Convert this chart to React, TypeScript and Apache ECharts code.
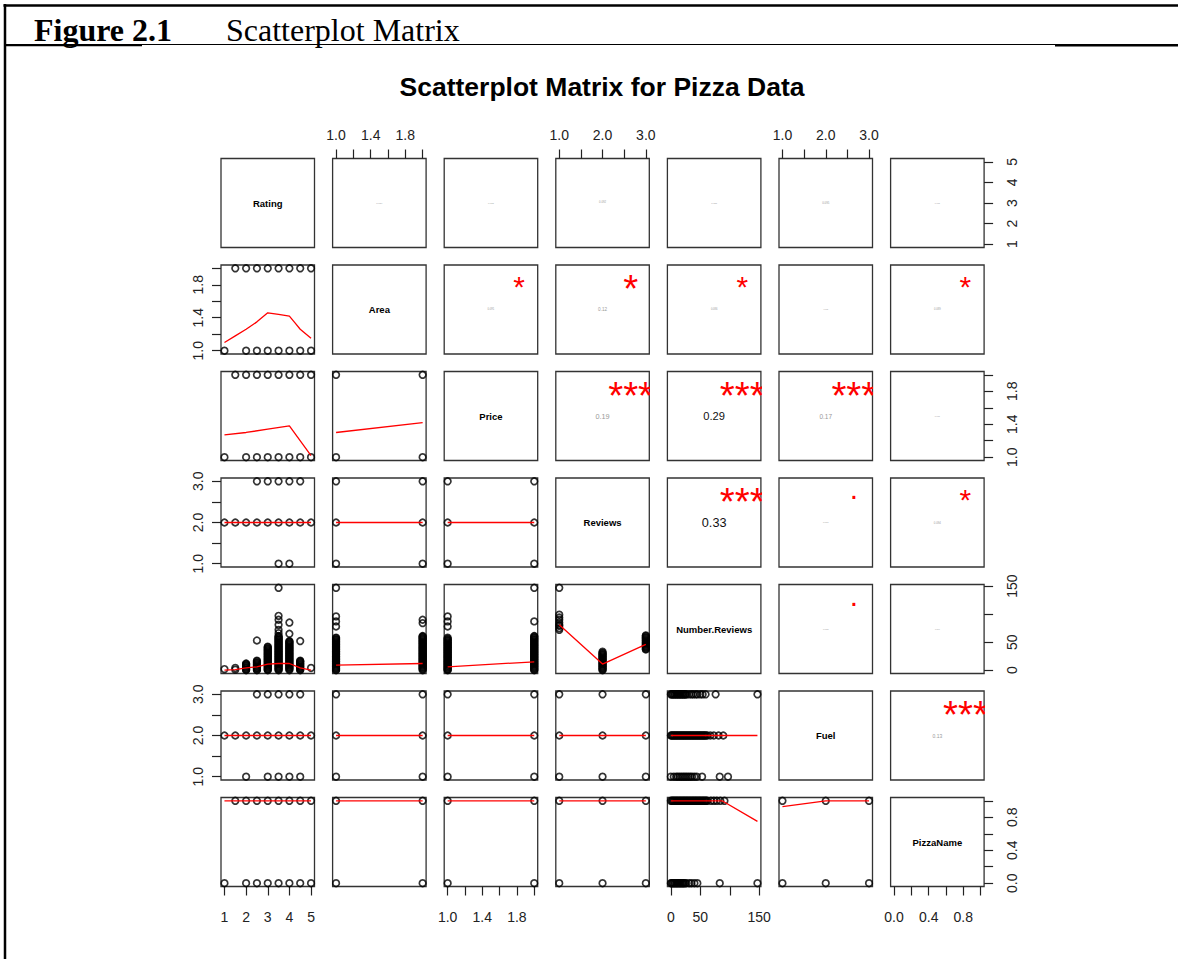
import { useEffect, useRef } from 'react';
import * as echarts from 'echarts';

// Variables in pairs() order and their observed ranges
const varNames = ['Rating', 'Area', 'Price', 'Reviews', 'Number.Reviews', 'Fuel', 'PizzaName'];
const varRanges: [number, number][] = [[1, 5], [1, 2], [1, 2], [1, 3], [0, 147], [1, 3], [0, 1]];

// Tick marks and labelled ticks for each variable's outer axis
const tickValues = [
  [1, 2, 3, 4, 5],
  [1, 1.2, 1.4, 1.6, 1.8, 2],
  [1, 1.2, 1.4, 1.6, 1.8, 2],
  [1, 1.5, 2, 2.5, 3],
  [0, 50, 100, 150],
  [1, 1.5, 2, 2.5, 3],
  [0, 0.2, 0.4, 0.6, 0.8, 1],
];
const tickLabels = [
  [1, 2, 3, 4, 5],
  [1, 1.4, 1.8],
  [1, 1.4, 1.8],
  [1, 2, 3],
  [0, 50, 150],
  [1, 2, 3],
  [0, 0.4, 0.8],
];
const labelDecimals = [0, 1, 1, 1, 0, 1, 1];

// Area / Price / PizzaName by Rating
const areaTwoRatings = [1.5, 2, 2.5, 3, 3.5, 4, 4.5, 5];
const areaOneRatings = [1, 2, 2.5, 3, 3.5, 4, 4.5, 5];
const areaRatingSmooth = [[1, 1.1], [1.5, 1.18], [2, 1.26], [2.5, 1.35], [3, 1.46], [3.5, 1.44], [4, 1.42], [4.25, 1.34], [4.5, 1.26], [5, 1.15]];
const priceTwoRatings = [1.5, 2, 2.5, 3, 3.5, 4, 4.5, 5];
const priceOneRatings = [1, 2, 2.5, 3, 3.5, 4, 4.5, 5];
const priceRatingSmooth = [[1, 1.27], [2, 1.3], [3, 1.34], [4, 1.38], [5, 1.02]];
const priceAreaPoints = [[1, 1], [1, 2], [2, 1], [2, 2]];
const priceAreaSmooth = [[1, 1.3], [2, 1.42]];

// Reviews
const reviewsThreeRatings = [2.5, 3, 3.5, 4, 4.5];
const reviewsTwoRatings = [1, 1.5, 2, 2.5, 3, 3.5, 4, 4.5, 5];
const reviewsOneRatings = [3.5, 4];
const reviewsRatingSmooth = [[1, 2], [5, 2]];
const reviewsAreaPoints = [[1, 1], [1, 2], [1, 3], [2, 1], [2, 2], [2, 3]];
const reviewsAreaSmooth = [[1, 2], [2, 2]];
const reviewsPricePoints = [[1, 1], [1, 2], [1, 3], [2, 1], [2, 2], [2, 3]];
const reviewsPriceSmooth = [[1, 2], [2, 2]];

// Number.Reviews at each Rating level
const nrAtRating1 = [2];
const nrAtRating15 = [1, 4];
const nrAtRating2 = [0, 1, 2, 4, 5, 7, 8, 10, 11, 12];
const nrAtRating25 = [0, 1, 3, 4, 5, 7, 8, 10, 11, 13, 14, 16, 17, 53];
const nrAtRating3 = [0, 1, 2, 4, 5, 7, 8, 9, 11, 12, 14, 15, 17, 18, 20, 21, 23, 24, 26, 27, 29, 30, 32, 33, 35, 36, 38, 39, 41, 42];
const nrAtRating35 = [0, 1, 3, 4, 6, 7, 9, 10, 12, 13, 15, 16, 18, 19, 21, 22, 24, 25, 27, 28, 30, 31, 33, 34, 36, 37, 39, 40, 42, 43, 45, 46, 48, 49, 51, 52, 54, 55, 57, 58, 60, 61, 66, 72, 81, 90, 97, 147];
const nrAtRating4 = [0, 2, 3, 5, 6, 8, 9, 11, 12, 14, 15, 17, 18, 20, 21, 23, 24, 26, 27, 29, 30, 32, 33, 35, 36, 38, 39, 41, 42, 44, 45, 47, 48, 50, 51, 52, 65, 85];
const nrAtRating45 = [0, 1, 3, 4, 6, 7, 9, 10, 12, 13, 15, 16, 17, 52];
const nrAtRating5 = [4];
const nrRatingSmooth = [[1, 0], [1.5, 1], [2, 4], [2.5, 6], [3, 11], [3.5, 12], [4, 12], [4.5, 4], [5, 0]];

// Number.Reviews by Area, Price and Reviews
const nrAreaOne = [0, 1, 3, 4, 6, 7, 9, 10, 12, 13, 15, 16, 18, 19, 21, 22, 24, 25, 27, 28, 30, 31, 33, 34, 36, 37, 39, 40, 42, 43, 45, 46, 48, 49, 51, 52, 54, 55, 57, 58, 78, 87, 96, 147];
const nrAreaTwo = [0, 2, 3, 5, 6, 8, 9, 11, 12, 14, 15, 17, 18, 20, 21, 23, 24, 26, 27, 29, 30, 32, 33, 35, 36, 38, 39, 41, 42, 44, 45, 47, 48, 50, 51, 53, 54, 56, 57, 59, 60, 61, 84, 90];
const nrAreaSmooth = [[1, 9], [2, 12]];
const nrPriceOne = [0, 1, 2, 4, 5, 7, 8, 10, 11, 13, 14, 16, 17, 19, 20, 22, 23, 25, 26, 28, 29, 31, 32, 34, 35, 37, 38, 40, 41, 43, 44, 46, 47, 49, 50, 52, 53, 55, 56, 58, 78, 87, 96];
const nrPriceTwo = [0, 1, 3, 4, 6, 7, 9, 10, 12, 13, 15, 16, 18, 19, 21, 22, 24, 25, 27, 28, 30, 31, 33, 34, 36, 37, 39, 40, 42, 43, 45, 46, 48, 49, 51, 52, 54, 55, 57, 58, 60, 61, 87, 147];
const nrPriceSmooth = [[1, 6], [2, 15]];
const nrReviewsOne = [72, 75, 79, 81, 85, 90, 94, 99, 147];
const nrReviewsTwo = [0, 1, 3, 4, 6, 7, 9, 10, 12, 13, 15, 16, 18, 19, 21, 22, 24, 25, 27, 28, 30, 31, 33];
const nrReviewsThree = [37, 38, 40, 41, 43, 44, 46, 47, 49, 50, 52, 53, 55, 56, 58, 59, 61, 62];
const nrReviewsSmooth = [[1, 81], [2, 11], [3, 46]];

// Fuel
const fuelThreeRatings = [2.5, 3, 3.5, 4, 4.5];
const fuelTwoRatings = [1, 1.5, 2, 2.5, 3, 3.5, 4, 4.5, 5];
const fuelOneRatings = [2, 3, 3.5, 4, 4.5];
const fuelRatingSmooth = [[1, 2], [5, 2]];
const fuelAreaPoints = [[1, 1], [1, 2], [1, 3], [2, 1], [2, 2], [2, 3]];
const fuelAreaSmooth = [[1, 2], [2, 2]];
const fuelPricePoints = [[1, 1], [1, 2], [1, 3], [2, 1], [2, 2], [2, 3]];
const fuelPriceSmooth = [[1, 2], [2, 2]];
const fuelReviewsPoints = [[1, 1], [1, 2], [1, 3], [2, 1], [2, 2], [2, 3], [3, 1], [3, 2], [3, 3]];
const fuelReviewsSmooth = [[1, 2], [3, 2]];
const nrFuelOne = [0, 5, 9, 12, 15, 18, 21, 24, 27, 30, 33, 36, 40, 44, 53, 83, 97];
const nrFuelTwo = [0, 1, 3, 4, 6, 7, 9, 10, 12, 13, 15, 16, 18, 19, 21, 22, 24, 25, 27, 28, 30, 31, 33, 34, 36, 37, 39, 40, 42, 43, 45, 46, 48, 49, 51, 52, 54, 55, 57, 58, 60, 62, 67, 73, 81, 89];
const nrFuelThree = [0, 1, 3, 4, 6, 7, 9, 10, 12, 13, 15, 16, 18, 19, 21, 22, 24, 25, 27, 31, 35, 38, 42, 45, 50, 54, 59, 76, 147];
const fuelNrSmooth = [[0, 2], [147, 2]];

// PizzaName
const pizzaOneRatings = [1.5, 2, 2.5, 3, 3.5, 4, 4.5, 5];
const pizzaZeroRatings = [1, 2, 2.5, 3, 3.5, 4, 4.5, 5];
const pizzaRatingSmooth = [[1, 1], [5, 1]];
const pizzaAreaPoints = [[1, 0], [1, 1], [2, 0], [2, 1]];
const pizzaAreaSmooth = [[1, 1], [2, 1]];
const pizzaPricePoints = [[1, 0], [1, 1], [2, 0], [2, 1]];
const pizzaPriceSmooth = [[1, 1], [2, 1]];
const pizzaReviewsPoints = [[1, 0], [1, 1], [2, 0], [2, 1], [3, 0], [3, 1]];
const pizzaReviewsSmooth = [[1, 1], [3, 1]];
const nrPizzaZero = [0, 1, 3, 4, 6, 7, 9, 10, 12, 13, 15, 16, 18, 19, 21, 22, 24, 26, 31, 35, 40, 45, 83, 147];
const nrPizzaOne = [0, 2, 3, 5, 6, 8, 9, 11, 12, 14, 15, 17, 18, 20, 21, 23, 24, 26, 27, 29, 30, 32, 33, 35, 36, 38, 39, 41, 42, 44, 45, 47, 48, 50, 51, 53, 54, 56, 57, 59, 60, 62, 68, 73, 78, 84, 91];
const pizzaNrSmooth = [[0, 1], [87, 1], [147, 0.75]];
const pizzaFuelPoints = [[1, 0], [1, 1], [2, 0], [2, 1], [3, 0], [3, 1]];
const pizzaFuelSmooth = [[1, 0.93], [2, 1], [3, 1]];

// Upper panels: absolute correlation and its significance code
const upperCells: [number, number][] = [
  [0, 1], [0, 2], [0, 3], [0, 4], [0, 5], [0, 6],
  [1, 2], [1, 3], [1, 4], [1, 5], [1, 6],
  [2, 3], [2, 4], [2, 5], [2, 6],
  [3, 4], [3, 5], [3, 6],
  [4, 5], [4, 6],
  [5, 6],
];
const corrText = [
  '0.084', '0.078', '0.092', '0.081', '0.095', '0.068',
  '0.091', '0.12', '0.086', '0.062', '0.089',
  '0.19', '0.29', '0.17', '0.071',
  '0.33', '0.077', '0.094',
  '0.075', '0.066',
  '0.13',
];
const signifCode = [
  ' ', ' ', ' ', ' ', ' ', ' ',
  '*', '*', '*', ' ', '*',
  '***', '***', '***', ' ',
  '***', '.', '*',
  '.', ' ',
  '***',
];

const SANS = '"Liberation Sans", Arial, Helvetica, sans-serif';
const SERIF = '"Liberation Serif", "Times New Roman", serif';
const INK = '#222';
const SMOOTH_RED = '#ff0000';

// Panel geometry
const LEFT0 = 221;
const COL_STEP = 111.6;
const CELL_W = 93.5;
const TOP0 = 158.5;
const ROW_STEP = 106.5;
const CELL_H = 89;

const pairs = (xs: number[], y: number) => xs.map((x) => [x, y]);
const column = (x: number, ys: number[]) => ys.map((y) => [x, y]);
const emWidth = (s: string) => Array.from(s).reduce((w, c) => w + (c === '.' ? 0.278 : 0.556), 0);

const nrByRating: [number, number[]][] = [
  [1, nrAtRating1], [1.5, nrAtRating15], [2, nrAtRating2], [2.5, nrAtRating25], [3, nrAtRating3],
  [3.5, nrAtRating35], [4, nrAtRating4], [4.5, nrAtRating45], [5, nrAtRating5],
];

const lowerPanels = [
  { row: 1, col: 0, points: [...pairs(areaTwoRatings, 2), ...pairs(areaOneRatings, 1)], smooth: areaRatingSmooth },
  { row: 2, col: 0, points: [...pairs(priceTwoRatings, 2), ...pairs(priceOneRatings, 1)], smooth: priceRatingSmooth },
  { row: 2, col: 1, points: priceAreaPoints, smooth: priceAreaSmooth },
  { row: 3, col: 0, points: [...pairs(reviewsThreeRatings, 3), ...pairs(reviewsTwoRatings, 2), ...pairs(reviewsOneRatings, 1)], smooth: reviewsRatingSmooth },
  { row: 3, col: 1, points: reviewsAreaPoints, smooth: reviewsAreaSmooth },
  { row: 3, col: 2, points: reviewsPricePoints, smooth: reviewsPriceSmooth },
  { row: 4, col: 0, points: nrByRating.flatMap(([r, vals]) => column(r, vals)), smooth: nrRatingSmooth },
  { row: 4, col: 1, points: [...column(1, nrAreaOne), ...column(2, nrAreaTwo)], smooth: nrAreaSmooth },
  { row: 4, col: 2, points: [...column(1, nrPriceOne), ...column(2, nrPriceTwo)], smooth: nrPriceSmooth },
  { row: 4, col: 3, points: [...column(1, nrReviewsOne), ...column(2, nrReviewsTwo), ...column(3, nrReviewsThree)], smooth: nrReviewsSmooth },
  { row: 5, col: 0, points: [...pairs(fuelThreeRatings, 3), ...pairs(fuelTwoRatings, 2), ...pairs(fuelOneRatings, 1)], smooth: fuelRatingSmooth },
  { row: 5, col: 1, points: fuelAreaPoints, smooth: fuelAreaSmooth },
  { row: 5, col: 2, points: fuelPricePoints, smooth: fuelPriceSmooth },
  { row: 5, col: 3, points: fuelReviewsPoints, smooth: fuelReviewsSmooth },
  { row: 5, col: 4, points: [...pairs(nrFuelOne, 1), ...pairs(nrFuelTwo, 2), ...pairs(nrFuelThree, 3)], smooth: fuelNrSmooth },
  { row: 6, col: 0, points: [...pairs(pizzaOneRatings, 1), ...pairs(pizzaZeroRatings, 0)], smooth: pizzaRatingSmooth },
  { row: 6, col: 1, points: pizzaAreaPoints, smooth: pizzaAreaSmooth },
  { row: 6, col: 2, points: pizzaPricePoints, smooth: pizzaPriceSmooth },
  { row: 6, col: 3, points: pizzaReviewsPoints, smooth: pizzaReviewsSmooth },
  { row: 6, col: 4, points: [...pairs(nrPizzaZero, 0), ...pairs(nrPizzaOne, 1)], smooth: pizzaNrSmooth },
  { row: 6, col: 5, points: pizzaFuelPoints, smooth: pizzaFuelSmooth },
];

function buildOption() {
  const n = varNames.length;
  const domains = varRanges.map(([a, b]) => {
    const d = (b - a) * 0.04;
    return [a - d, b + d];
  });
  const at = (v: number, f: number) => domains[v][0] + f * (domains[v][1] - domains[v][0]);
  const idx = (i: number, j: number) => i * n + j;

  const makeAxis = (gridIndex: number, v: number, position: string, show: boolean, margin: number, rotate: number) => ({
    gridIndex,
    type: 'value',
    position,
    min: domains[v][0],
    max: domains[v][1],
    axisLine: { show: false, onZero: false },
    splitLine: { show: false },
    splitArea: { show: false },
    minorTick: { show: false },
    axisTick: {
      show,
      length: 9,
      customValues: tickValues[v],
      lineStyle: { color: INK, width: 1.2 },
    },
    axisLabel: {
      show,
      customValues: tickLabels[v],
      formatter: (val: number) => val.toFixed(labelDecimals[v]),
      margin,
      rotate,
      fontSize: 14,
      fontFamily: SANS,
      color: INK,
    },
  });

  const grid: any[] = [];
  const xAxis: any[] = [];
  const yAxis: any[] = [];
  for (let i = 0; i < n; i++) {
    for (let j = 0; j < n; j++) {
      const k = idx(i, j);
      grid.push({
        left: LEFT0 + j * COL_STEP,
        top: TOP0 + i * ROW_STEP,
        width: CELL_W,
        height: CELL_H,
        show: true,
        borderColor: '#333',
        borderWidth: 1.3,
        backgroundColor: 'transparent',
      });
      const top = i === 0 && j % 2 === 1;
      const bottom = i === n - 1 && j % 2 === 0;
      const left = j === 0 && i % 2 === 1;
      const right = j === n - 1 && i % 2 === 0;
      xAxis.push(makeAxis(k, j, top ? 'top' : 'bottom', top || bottom, top ? 17 : 23, 0));
      yAxis.push(makeAxis(k, i, right ? 'right' : 'left', left || right, right ? 21 : 16, 90));
    }
  }

  const series: any[] = [];

  lowerPanels.forEach((p) => {
    const k = idx(p.row, p.col);
    series.push({
      type: 'scatter',
      xAxisIndex: k,
      yAxisIndex: k,
      data: p.points,
      symbol: 'circle',
      symbolSize: 6.6,
      silent: true,
      itemStyle: { color: 'rgba(0,0,0,0)', borderColor: '#000', borderWidth: 1.7 },
      z: 2,
    });
  });
  // Lowess-style smooth lines, drawn above the points
  lowerPanels.forEach((p) => {
    const k = idx(p.row, p.col);
    series.push({
      type: 'line',
      xAxisIndex: k,
      yAxisIndex: k,
      data: p.smooth,
      symbol: 'none',
      silent: true,
      clip: false,
      color: SMOOTH_RED,
      itemStyle: { color: SMOOTH_RED },
      lineStyle: { color: SMOOTH_RED, width: 1.3, opacity: 1 },
      z: 10,
    });
  });

  // Variable names on the diagonal
  for (let i = 0; i < n; i++) {
    const k = idx(i, i);
    series.push({
      type: 'custom',
      xAxisIndex: k,
      yAxisIndex: k,
      data: [[at(i, 0.5), at(i, 0.5)]],
      silent: true,
      renderItem: (_params: any, api: any) => {
        const c = api.coord([api.value(0), api.value(1)]);
        return {
          type: 'text',
          x: c[0],
          y: c[1],
          style: {
            text: varNames[i],
            fontSize: 9.5,
            fontWeight: 'bold',
            fontFamily: SANS,
            fill: '#000',
            align: 'center',
            verticalAlign: 'middle',
          },
        };
      },
    });
  }

  // Correlations (sized by |r|) and significance marks
  upperCells.forEach(([row, col], m) => {
    const k = idx(row, col);
    series.push({
      type: 'custom',
      xAxisIndex: k,
      yAxisIndex: k,
      clip: true,
      silent: true,
      data: [[at(col, 0.5), at(row, 0.5), at(col, 0.8), at(row, 0.8)]],
      renderItem: (params: any, api: any) => {
        const c = api.coord([api.value(0), api.value(1)]);
        const s = api.coord([api.value(2), api.value(3)]);
        const txt = corrText[m];
        const r = parseFloat(txt);
        const markSize = (0.8 * params.coordSys.width) / emWidth(txt);
        const corrSize = markSize * r;
        const children: any[] = [
          {
            type: 'text',
            x: c[0],
            y: c[1],
            style: {
              text: txt,
              fontSize: corrSize,
              fontFamily: SANS,
              fill: corrSize < 9 ? '#9a9a9a' : '#111',
              align: 'center',
              verticalAlign: 'middle',
            },
          },
        ];
        const mark = signifCode[m].trim();
        if (mark) {
          const dy = mark === '.' ? -0.3 * markSize + 2 : 0.234 * markSize - 3;
          children.push({
            type: 'text',
            x: s[0],
            y: s[1] + dy,
            style: {
              text: mark,
              fontSize: markSize,
              fontFamily: SANS,
              fill: '#ff0000',
              align: 'center',
              verticalAlign: 'middle',
            },
          });
        }
        return { type: 'group', children };
      },
    });
  });

  const graphic = [
    { type: 'line', shape: { x1: 3.5, y1: 5.5, x2: 1178, y2: 5.5 }, style: { stroke: '#000', lineWidth: 2.5 } },
    { type: 'line', shape: { x1: 5, y1: 4, x2: 5, y2: 959 }, style: { stroke: '#000', lineWidth: 2.5 } },
    { type: 'line', shape: { x1: 5, y1: 44.5, x2: 1178, y2: 44.5 }, style: { stroke: '#000', lineWidth: 1.2 } },
    { type: 'line', shape: { x1: 5, y1: 45.2, x2: 142, y2: 45.2 }, style: { stroke: '#000', lineWidth: 2 } },
    { type: 'line', shape: { x1: 1055, y1: 45.4, x2: 1178, y2: 45.4 }, style: { stroke: '#000', lineWidth: 2.2 } },
    {
      type: 'text',
      x: 34,
      y: 29.5,
      style: { text: 'Figure 2.1', fontSize: 32, fontWeight: 'bold', fontFamily: SERIF, fill: '#000', align: 'left', verticalAlign: 'middle' },
    },
    {
      type: 'text',
      x: 226,
      y: 29.5,
      style: { text: 'Scatterplot Matrix', fontSize: 32, fontFamily: SERIF, fill: '#000', align: 'left', verticalAlign: 'middle' },
    },
    {
      type: 'text',
      x: 602,
      y: 87,
      style: {
        text: 'Scatterplot Matrix for Pizza Data',
        fontSize: 26.5,
        fontWeight: 'bold',
        fontFamily: SANS,
        fill: '#000',
        align: 'center',
        verticalAlign: 'middle',
      },
    },
  ];

  return {
    animation: false,
    backgroundColor: '#fff',
    grid,
    xAxis,
    yAxis,
    series,
    graphic,
  };
}

export default function App() {
  const ref = useRef<HTMLDivElement>(null);
  useEffect(() => {
    if (!ref.current) return;
    const chart = echarts.init(ref.current, undefined, { renderer: 'svg' });
    chart.setOption(buildOption() as any);
    return () => chart.dispose();
  }, []);
  return <div ref={ref} style={{ position: 'absolute', left: 0, top: 0, width: 1178, height: 959 }} />;
}
